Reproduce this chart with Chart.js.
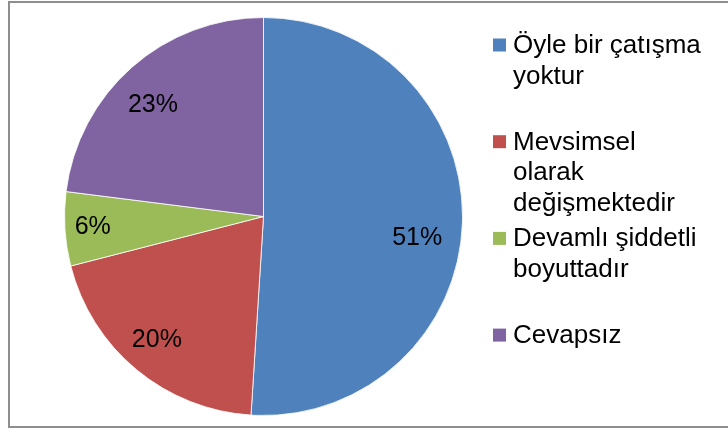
<!DOCTYPE html>
<html>
<head>
<meta charset="utf-8">
<script src="https://cdn.jsdelivr.net/npm/chart.js@4/dist/chart.umd.min.js"></script>
<style>
html,body{margin:0;padding:0;background:#fff;}
#c{display:block;}
</style>
</head>
<body>
<canvas id="c" width="728" height="428"></canvas>
<script>
// ---- data ----
const categories = ["Öyle bir çatışma yoktur", "Mevsimsel olarak değişmektedir", "Devamlı şiddetli boyuttadır", "Cevapsız"];
const values = [51, 20, 6, 23];
const valueLabels = ["51%", "20%", "6%", "23%"];
const colors = ["#4F81BD", "#C0504D", "#9BBB59", "#8064A2"];

// ---- style constants ----
const LEGEND_FONT = '26px "Liberation Sans", Arial, sans-serif';
const LABEL_FONT = '25px "Liberation Sans", Arial, sans-serif';
const labelRadiusFactor = [0.78, 0.82, 0.86, 0.79];
const labelAngleTweakDeg = [6.2, 1.2, 0, -3.3];

const framePlugin = {
  id: 'frame',
  beforeDraw(chart) {
    const ctx = chart.ctx;
    ctx.save();
    ctx.fillStyle = '#fff';
    ctx.fillRect(0, 0, chart.width, chart.height);
    ctx.strokeStyle = '#8e8e8e';
    ctx.lineWidth = 2;
    ctx.strokeRect(9, 2, chart.width + 20, chart.height - 3);
    ctx.restore();
  }
};

const sliceLabelPlugin = {
  id: 'sliceLabels',
  afterDatasetsDraw(chart) {
    const ctx = chart.ctx;
    const meta = chart.getDatasetMeta(0);
    ctx.save();
    ctx.font = LABEL_FONT;
    ctx.fillStyle = '#000';
    ctx.textAlign = 'center';
    ctx.textBaseline = 'middle';
    meta.data.forEach((arc, i) => {
      const p = arc.getProps(['x', 'y', 'startAngle', 'endAngle', 'outerRadius'], true);
      const mid = (p.startAngle + p.endAngle) / 2 + labelAngleTweakDeg[i] * Math.PI / 180;
      const r = p.outerRadius * labelRadiusFactor[i];
      ctx.fillText(valueLabels[i], p.x + Math.cos(mid) * r, p.y + Math.sin(mid) * r);
    });
    ctx.restore();
  }
};

function wrapText(ctx, text, maxWidth) {
  const words = text.split(' ');
  const lines = [];
  let cur = '';
  words.forEach(w => {
    const test = cur ? cur + ' ' + w : w;
    if (cur && ctx.measureText(test).width > maxWidth) {
      lines.push(cur);
      cur = w;
    } else {
      cur = test;
    }
  });
  if (cur) lines.push(cur);
  return lines;
}

const legendPlugin = {
  id: 'sideLegend',
  afterDraw(chart) {
    const ctx = chart.ctx;
    const labels = chart.data.labels;
    const bg = chart.data.datasets[0].backgroundColor;
    const markerX = 493, markerSize = 13, textX = 513;
    const firstBaseline = 53, entryStep = 96.7, lineHeight = 30.5;
    ctx.save();
    ctx.font = LEGEND_FONT;
    ctx.textAlign = 'left';
    ctx.textBaseline = 'alphabetic';
    labels.forEach((lab, i) => {
      const base = firstBaseline + i * entryStep;
      ctx.fillStyle = bg[i];
      ctx.fillRect(markerX, base - 8 - markerSize / 2, markerSize, markerSize);
      ctx.fillStyle = '#000';
      const lines = wrapText(ctx, lab, 196);
      lines.forEach((ln, k) => ctx.fillText(ln, textX, base + k * lineHeight));
    });
    ctx.restore();
  }
};

new Chart(document.getElementById('c'), {
  type: 'pie',
  data: {
    labels: categories,
    datasets: [{
      data: values,
      backgroundColor: colors,
      borderColor: 'rgba(255,255,255,0.8)',
      borderWidth: 1,
      hoverBorderWidth: 1
    }]
  },
  options: {
    responsive: false,
    animation: false,
    events: [],
    layout: { padding: { top: 17, bottom: 12, left: 64, right: 265 } },
    plugins: {
      legend: { display: false },
      tooltip: { enabled: false }
    }
  },
  plugins: [framePlugin, sliceLabelPlugin, legendPlugin]
});
</script>
</body>
</html>
